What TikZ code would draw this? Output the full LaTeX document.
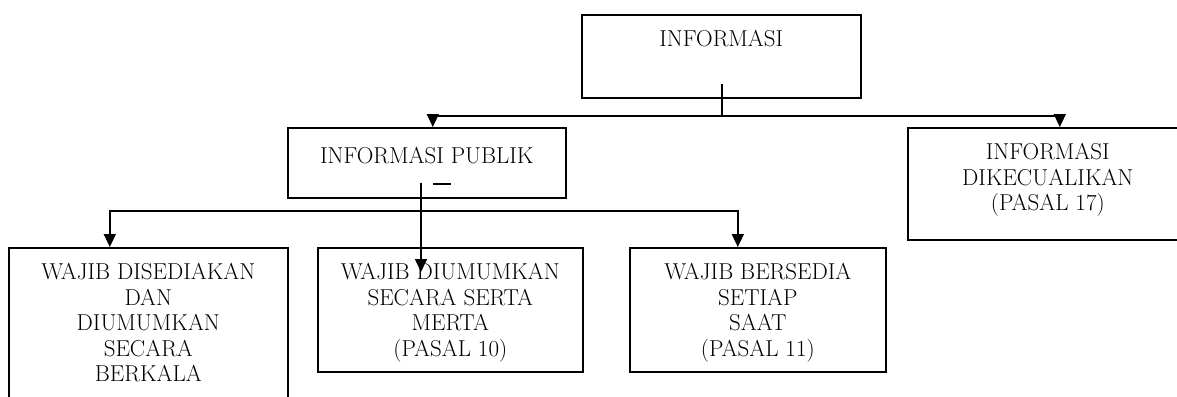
\documentclass[tikz,border=0pt]{standalone}
\usetikzlibrary{arrows.meta}
\begin{document}
\begin{tikzpicture}[x=1pt,y=-1pt]
                        \tikzstyle{kotak}=[draw, line width=1.6pt, anchor=north west, inner sep=0pt, align=center, font=\fontsize{23}{25.5}\selectfont]
                        \tikzstyle{garis}=[line width=1.2pt]
                        \tikzstyle{panah}=[line width=1.6pt, -{Triangle[width=12pt,length=13pt]}]
                        \useasboundingbox (0,0) rectangle (1177,396);
                        \clip (0,0) rectangle (1177,396);
                        \node[kotak, minimum width=279pt, text height=32pt, text depth=51pt] (informasi) at (581,14) {INFORMASI};
                        \node[kotak, minimum width=278pt, text height=63.5pt, text depth=6.5pt] (publik) at (287,127)
                            {INFORMASI PUBLIK\\[2pt]\hspace*{30pt}\rule[6.5pt]{18pt}{1.6pt}};
                        \node[kotak, minimum width=280pt, text height=83pt, text depth=29pt] (kecuali) at (907,127)
                            {INFORMASI\\DIKECUALIKAN\\(PASAL 17)};
                        \node[kotak, minimum width=279pt, text height=134pt, text depth=39pt] (wajib1) at (8,247)
                            {WAJIB DISEDIAKAN\\DAN\\DIUMUMKAN\\SECARA\\BERKALA};
                        \node[kotak, minimum width=265pt, text height=108.5pt, text depth=15.5pt] (wajib2) at (317,247)
                            {WAJIB DIUMUMKAN\\SECARA SERTA\\MERTA\\(PASAL 10)};
                        \node[kotak, minimum width=256pt, text height=108.5pt, text depth=15.5pt] (wajib3) at (629,247)
                            {WAJIB BERSEDIA\\SETIAP\\SAAT\\(PASAL 11)};
                        \coordinate (pangkal1) at (722,84);
                        \coordinate (cabang1) at (722,116);
                        \coordinate (pangkal2) at (421,183);
                        \coordinate (cabang2) at (421,211);
                        \coordinate (ujung2) at (421,272);
                        \draw[garis] (pangkal1) -- (cabang1);
                        \draw[panah] (cabang1) -| ([xshift=6pt]publik.north);
                        \draw[panah] (cabang1) -| ([xshift=12pt]kecuali.north);
                        \draw[panah] (pangkal2) -- (ujung2);
                        \draw[panah] (cabang2) -| ([xshift=-38.5pt]wajib1.north);
                        \draw[panah] (cabang2) -| ([xshift=-20pt]wajib3.north);
                    \end{tikzpicture}
\end{document}
